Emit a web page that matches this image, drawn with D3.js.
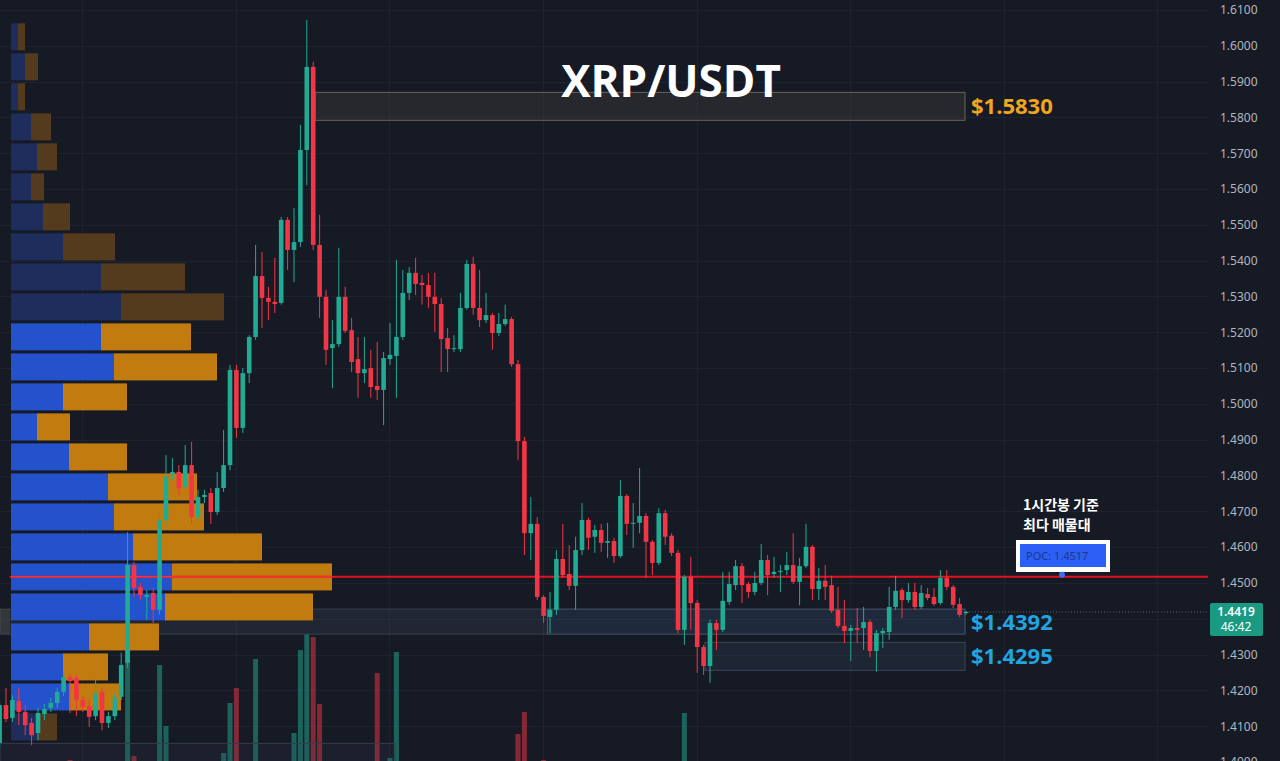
<!DOCTYPE html>
<html><head><meta charset="utf-8">
<script src="https://cdn.jsdelivr.net/npm/d3@7"></script>
<style>html,body{margin:0;padding:0;background:#161a25;overflow:hidden}</style>
</head><body><svg id="c" width="1280" height="761"></svg>
<script>
// ---- data ----
const opens=[1.4053,1.4159,1.4123,1.4170,1.4140,1.4109,1.4081,1.4134,1.4151,1.4165,1.4196,1.4237,1.4234,1.4173,1.4156,1.4128,1.4196,1.4109,1.4128,1.4182,
1.4277,1.4550,1.4489,1.4461,1.4472,1.4425,1.4676,1.4804,1.4810,1.4768,1.4829,1.4684,1.4740,1.4751,1.4698,1.4765,1.4829,1.5095,1.4933,1.5086,
1.5187,1.5357,1.5296,1.5285,1.5282,1.5514,1.5430,1.5452,1.5709,1.5941,1.5444,1.5299,1.5156,1.5167,1.5299,1.5206,1.5125,1.5086,1.5100,1.5050,
1.5039,1.5125,1.5134,1.5187,1.5310,1.5366,1.5338,1.5332,1.5299,1.5279,1.5184,1.5153,1.5153,1.5268,1.5391,1.5268,1.5234,1.5248,1.5198,1.5223,
1.5237,1.5111,1.4896,1.4639,1.4665,1.4461,1.4405,1.4425,1.4567,1.4525,1.4492,1.4592,1.4676,1.4629,1.4648,1.4612,1.4617,1.4575,1.4743,1.4665,
1.4668,1.4687,1.4615,1.4556,1.4695,1.4632,1.4584,1.4369,1.4517,1.4444,1.4321,1.4268,1.4388,1.4369,1.4447,1.4494,1.4547,1.4497,1.4475,1.4500,
1.4564,1.4525,1.4531,1.4536,1.4550,1.4503,1.4547,1.4601,1.4483,1.4506,1.4494,1.4425,1.4380,1.4366,1.4374,1.4374,1.4391,1.4310,1.4360,1.4363,
1.4433,1.4480,1.4452,1.4475,1.4433,1.4469,1.4461,1.4444,1.4514,1.4489,1.4441,1.4416];
const highs=[1.4173,1.4207,1.4187,1.4207,1.4159,1.4123,1.4151,1.4162,1.4179,1.4207,1.4251,1.4246,1.4243,1.4184,1.4173,1.4232,1.4207,1.4140,1.4193,1.4305,
1.4642,1.4559,1.4500,1.4480,1.4486,1.4690,1.4857,1.4849,1.4829,1.4885,1.4894,1.4760,1.4760,1.4765,1.4810,1.4927,1.5109,1.5109,1.5100,1.5192,
1.5444,1.5424,1.5327,1.5408,1.5522,1.5522,1.5547,1.5779,1.6072,1.5955,1.5528,1.5318,1.5234,1.5436,1.5327,1.5240,1.5187,1.5187,1.5151,1.5173,
1.5145,1.5226,1.5402,1.5374,1.5382,1.5408,1.5360,1.5366,1.5366,1.5296,1.5212,1.5192,1.5310,1.5402,1.5411,1.5374,1.5310,1.5254,1.5254,1.5277,
1.5243,1.5123,1.4908,1.4740,1.4684,1.4466,1.4475,1.4592,1.4665,1.4606,1.4629,1.4723,1.4682,1.4662,1.4665,1.4668,1.4626,1.4787,1.4748,1.4723,
1.4821,1.4695,1.4620,1.4709,1.4704,1.4639,1.4592,1.4522,1.4573,1.4452,1.4327,1.4397,1.4397,1.4531,1.4531,1.4564,1.4556,1.4503,1.4531,1.4609,
1.4578,1.4573,1.4550,1.4587,1.4639,1.4570,1.4665,1.4606,1.4542,1.4550,1.4520,1.4489,1.4452,1.4383,1.4430,1.4433,1.4397,1.4369,1.4374,1.4489,
1.4520,1.4486,1.4500,1.4500,1.4494,1.4486,1.4486,1.4536,1.4536,1.4494,1.4458,1.4422];
const lows=[1.4039,1.4112,1.4112,1.4103,1.4075,1.4047,1.4061,1.4117,1.4140,1.4151,1.4184,1.4137,1.4128,1.4140,1.4098,1.4117,1.4089,1.4095,1.4117,1.4173,
1.4263,1.4461,1.4452,1.4397,1.4388,1.4411,1.4662,1.4787,1.4746,1.4760,1.4665,1.4676,1.4723,1.4665,1.4690,1.4754,1.4815,1.4905,1.4919,1.5058,
1.5179,1.5212,1.5234,1.5254,1.5277,1.5374,1.5340,1.5438,1.5611,1.5430,1.5240,1.5109,1.5044,1.5159,1.5198,1.5089,1.5017,1.5058,1.5017,1.5011,
1.4941,1.5109,1.5017,1.5179,1.5290,1.5304,1.5277,1.5268,1.5201,1.5089,1.5089,1.5145,1.5145,1.5263,1.5249,1.5215,1.5226,1.5151,1.5190,1.5218,
1.5103,1.4844,1.4578,1.4564,1.4452,1.4388,1.4360,1.4411,1.4514,1.4480,1.4425,1.4578,1.4592,1.4584,1.4587,1.4570,1.4556,1.4570,1.4634,1.4598,
1.4639,1.4514,1.4522,1.4550,1.4606,1.4575,1.4360,1.4327,1.4369,1.4249,1.4243,1.4221,1.4313,1.4363,1.4439,1.4480,1.4444,1.4458,1.4466,1.4494,
1.4466,1.4514,1.4475,1.4522,1.4497,1.4438,1.4542,1.4452,1.4452,1.4452,1.4416,1.4374,1.4332,1.4282,1.4332,1.4313,1.4293,1.4252,1.4318,1.4341,
1.4425,1.4402,1.4444,1.4425,1.4427,1.4452,1.4436,1.4439,1.4480,1.4430,1.4405,1.4411];
const closes=[1.4159,1.4120,1.4173,1.4140,1.4103,1.4075,1.4137,1.4148,1.4165,1.4196,1.4237,1.4226,1.4173,1.4154,1.4126,1.4193,1.4109,1.4128,1.4179,1.4271,
1.4550,1.4486,1.4466,1.4466,1.4425,1.4676,1.4796,1.4810,1.4765,1.4829,1.4684,1.4740,1.4746,1.4698,1.4765,1.4829,1.5095,1.4933,1.5086,1.5187,
1.5357,1.5296,1.5285,1.5279,1.5514,1.5430,1.5452,1.5709,1.5941,1.5444,1.5299,1.5151,1.5167,1.5299,1.5204,1.5117,1.5086,1.5097,1.5047,1.5039,
1.5128,1.5137,1.5187,1.5310,1.5366,1.5335,1.5332,1.5299,1.5279,1.5181,1.5153,1.5156,1.5268,1.5391,1.5268,1.5234,1.5248,1.5198,1.5223,1.5237,
1.5111,1.4896,1.4639,1.4665,1.4461,1.4408,1.4425,1.4567,1.4522,1.4492,1.4592,1.4676,1.4626,1.4648,1.4612,1.4617,1.4575,1.4743,1.4665,1.4668,
1.4687,1.4615,1.4556,1.4695,1.4629,1.4584,1.4369,1.4517,1.4444,1.4321,1.4268,1.4388,1.4369,1.4450,1.4497,1.4547,1.4494,1.4475,1.4500,1.4564,
1.4522,1.4531,1.4534,1.4550,1.4503,1.4547,1.4601,1.4483,1.4506,1.4489,1.4422,1.4380,1.4366,1.4374,1.4369,1.4391,1.4310,1.4360,1.4366,1.4433,
1.4478,1.4452,1.4475,1.4433,1.4472,1.4458,1.4441,1.4514,1.4489,1.4439,1.4411,1.4419];
const volumes=[14,18,12,16,20,22,15,11,13,17,19,30,21,16,12,18,23,14,16,24,
140,34,22,18,25,125,64,15,19,17,26,12,10,21,18,37,87,102,20,24,
131,22,15,19,26,18,57,140,156,153,86,24,20,18,16,22,19,14,21,117,
17,32,138,22,18,15,13,17,20,24,19,12,16,21,23,17,14,19,13,16,
22,56,78,26,24,30,21,18,17,15,20,19,12,14,16,11,13,22,17,12,
20,18,15,19,13,16,24,77,22,25,18,21,14,19,13,17,16,12,11,15,
14,10,12,13,18,15,20,19,14,12,17,16,13,15,12,14,18,16,11,19,
15,12,10,13,11,12,14,16,12,15,13,9];
const priceTicks=[1.61,1.60,1.59,1.58,1.57,1.56,1.55,1.54,1.53,1.52,1.51,1.50,1.49,1.48,1.47,1.46,1.45,1.44,1.43,1.42,1.41,1.40];
const hiddenTickLabels=[1.44]; // covered by the last-price label
const timeGridIdx=[12.9,36.9,60.9,84.9,108.9,132.9,156.9,180.9];
// volume profile rows, top (highest price) to bottom
const profileUp=[7,14,7,20,26,20,32,52,90,110,90,103,52,26,58,97,103,122,161,154,78,52,58,26];
const profileDown=[7,13,7,20,20,13,27,52,84,103,90,103,64,33,58,89,90,129,160,148,70,45,52,20];
const valueArea=[false,false,false,false,false,false,false,false,false,false,true,true,true,true,true,true,true,true,true,true,true,true,true,false];
const profileHigh=1.6067, profileLow=1.4056;
const pocPrice=1.4517, lastPrice=1.4419;
const zones=[{label:"$1.5830",top:1.5870,bot:1.5792,from:49.3,color:"#f0a51e",fill:"rgba(70,70,60,0.35)",stroke:"#6a6450"},
             {label:"$1.4392",top:1.4427,bot:1.4357,from:85.6,color:"#21a4e0",fill:"rgba(55,85,120,0.28)",stroke:"#46566a"},
             {label:"$1.4295",top:1.4334,bot:1.4256,from:110.2,color:"#21a4e0",fill:"rgba(50,62,85,0.30)",stroke:"#3b4656"}];

// ---- scales ----
const svg=d3.select("#c");
const W=1280,H=761,plotR=1208;
const y=d3.scaleLinear().domain([1.40,1.61]).range([762,10]);
const x=d3.scaleLinear().domain([0,151]).range([-0.4,966]);
const yv=d3.scaleLinear().domain([0,160]).range([790,630]);
const xp=d3.scaleLinear().domain([0,321]).range([11,332]);
const N=opens.length;
const data=d3.range(N).map(i=>({i,o:opens[i],h:highs[i],l:lows[i],c:closes[i],v:volumes[i]}));
const UP="#22ab94",DN="#f23645";

svg.append("rect").attr("width",W).attr("height",H).attr("fill","#161a25");

// grid
svg.append("g").selectAll("line").data(priceTicks).join("line")
  .attr("x1",0).attr("x2",plotR).attr("y1",d=>Math.round(y(d))+0.5).attr("y2",d=>Math.round(y(d))+0.5)
  .attr("stroke","#1f2330").attr("stroke-width",1);
svg.append("g").selectAll("line").data(timeGridIdx).join("line")
  .attr("x1",d=>Math.round(x(d))+0.5).attr("x2",d=>Math.round(x(d))+0.5).attr("y1",0).attr("y2",H)
  .attr("stroke","#1f2330").attr("stroke-width",1);

// volume
svg.append("g").selectAll("rect").data(data).join("rect")
  .attr("x",d=>x(d.i)-2.5).attr("width",5)
  .attr("y",d=>yv(d.v)).attr("height",d=>yv(0)-yv(d.v))
  .attr("fill",d=>d.c>=d.o?"rgba(34,171,148,0.5)":"rgba(242,54,69,0.5)");

// faint left bands
const z1=zones[1];
svg.append("rect").attr("x",0).attr("width",x(z1.from)).attr("y",y(z1.top)).attr("height",y(z1.bot)-y(z1.top))
  .attr("fill","rgba(70,80,100,0.22)").attr("stroke","#38414f").attr("stroke-width",1);
svg.append("rect").attr("x",0).attr("width",10).attr("y",y(z1.top)).attr("height",y(z1.bot)-y(z1.top))
  .attr("fill","rgba(90,90,80,0.35)");
svg.append("rect").attr("x",0).attr("width",x(61.8)).attr("y",y(1.4052)).attr("height",40)
  .attr("fill","rgba(60,70,90,0.15)").attr("stroke","#353d4b").attr("stroke-width",1);

// volume profile
const rowH=(y(profileLow)-y(profileHigh))/profileUp.length;
const pg=svg.append("g");
profileUp.forEach((u,k)=>{
  const top=y(profileHigh)+k*rowH+1.5, h=rowH-3, va=valueArea[k];
  pg.append("rect").attr("x",xp(0)).attr("y",top).attr("width",xp(u)-xp(0)).attr("height",h)
    .attr("fill",va?"#2451cc":"#1e2d5c");
  pg.append("rect").attr("x",xp(u)).attr("y",top).attr("width",xp(u+profileDown[k])-xp(u)).attr("height",h)
    .attr("fill",va?"#c27b0e":"#553b1e");
});

// zones
zones.forEach(z=>{
  svg.append("rect").attr("x",x(z.from)).attr("width",965-x(z.from)).attr("y",y(z.top)).attr("height",y(z.bot)-y(z.top))
    .attr("fill",z.fill).attr("stroke",z.stroke).attr("stroke-width",1);
  svg.append("text").attr("x",971).attr("y",(y(z.top)+y(z.bot))/2+8).text(z.label)
    .attr("fill",z.color).attr("font-family","'Open Sans',sans-serif").attr("font-weight",700).attr("font-size",22);
});

// POC line
svg.append("line").attr("x1",x(0)+10).attr("x2",plotR).attr("y1",y(pocPrice)).attr("y2",y(pocPrice))
  .attr("stroke","#e3131e").attr("stroke-width",2);
svg.append("line").attr("x1",11).attr("x2",xp(321)).attr("y1",y(pocPrice)).attr("y2",y(pocPrice))
  .attr("stroke","rgba(255,80,80,0.55)").attr("stroke-width",1.5);

// last price dotted line
svg.append("line").attr("x1",x(151)).attr("x2",plotR).attr("y1",y(lastPrice)).attr("y2",y(lastPrice))
  .attr("stroke","#5d6270").attr("stroke-width",1).attr("stroke-dasharray","1,2");

// candles
const cg=svg.append("g");
cg.selectAll("line").data(data).join("line")
  .attr("x1",d=>x(d.i)).attr("x2",d=>x(d.i)).attr("y1",d=>y(d.h)).attr("y2",d=>y(d.l))
  .attr("stroke",d=>d.c>=d.o?UP:DN).attr("stroke-width",1);
cg.selectAll("rect").data(data).join("rect")
  .attr("x",d=>x(d.i)-2.3).attr("width",4.6)
  .attr("y",d=>y(Math.max(d.o,d.c))).attr("height",d=>Math.max(1,Math.abs(y(d.o)-y(d.c))))
  .attr("fill",d=>d.c>=d.o?UP:DN);

// title
svg.append("text").attr("x",671).attr("y",97).attr("text-anchor","middle").text("XRP/USDT")
  .attr("fill","#ffffff").attr("font-family","'Open Sans',sans-serif").attr("font-weight",700).attr("font-size",44);

// annotation
const ann=svg.append("g").attr("font-family","'Noto Sans CJK KR',sans-serif").attr("font-weight",700).attr("font-size",14).attr("fill","#ffffff");
ann.append("text").attr("x",1023).attr("y",510).text("1시간봉 기준");
ann.append("text").attr("x",1023).attr("y",530).text("최다 매물대");
svg.append("rect").attr("x",1016).attr("y",540).attr("width",94).attr("height",32).attr("fill","#ffffff");
svg.append("rect").attr("x",1020).attr("y",544).attr("width",86).attr("height",23).attr("fill","#2c5ff6");
svg.append("text").attr("x",1026).attr("y",560).text("POC: 1.4517").attr("fill","#1c3787")
  .attr("font-family","'Noto Sans',sans-serif").attr("font-size",11);
svg.append("circle").attr("cx",1062).attr("cy",y(pocPrice)-2).attr("r",3).attr("fill","#3d6bff");

// right axis
const labelTicks=priceTicks.filter(t=>!hiddenTickLabels.includes(t));
const ax=svg.append("g").attr("transform",`translate(${plotR+5},0)`)
  .call(d3.axisRight(y).tickValues(labelTicks).tickFormat(d3.format(".4f")).tickSize(0).tickPadding(7));
ax.select(".domain").remove();
ax.selectAll("text").attr("fill","#b2b5be").attr("font-family","'Noto Sans',sans-serif").attr("font-size",12);

// last price label
svg.append("rect").attr("x",1210).attr("y",y(lastPrice)-9).attr("width",53).attr("height",33).attr("rx",2).attr("fill","#1a9a83");
svg.append("text").attr("x",1236).attr("y",y(lastPrice)+4).attr("text-anchor","middle").text(d3.format(".4f")(lastPrice))
  .attr("fill","#ffffff").attr("font-family","'Noto Sans',sans-serif").attr("font-size",12).attr("font-weight",600);
svg.append("text").attr("x",1236).attr("y",y(lastPrice)+19).attr("text-anchor","middle").text("46:42")
  .attr("fill","#ffffff").attr("font-family","'Noto Sans',sans-serif").attr("font-size",12);
</script></body></html>
